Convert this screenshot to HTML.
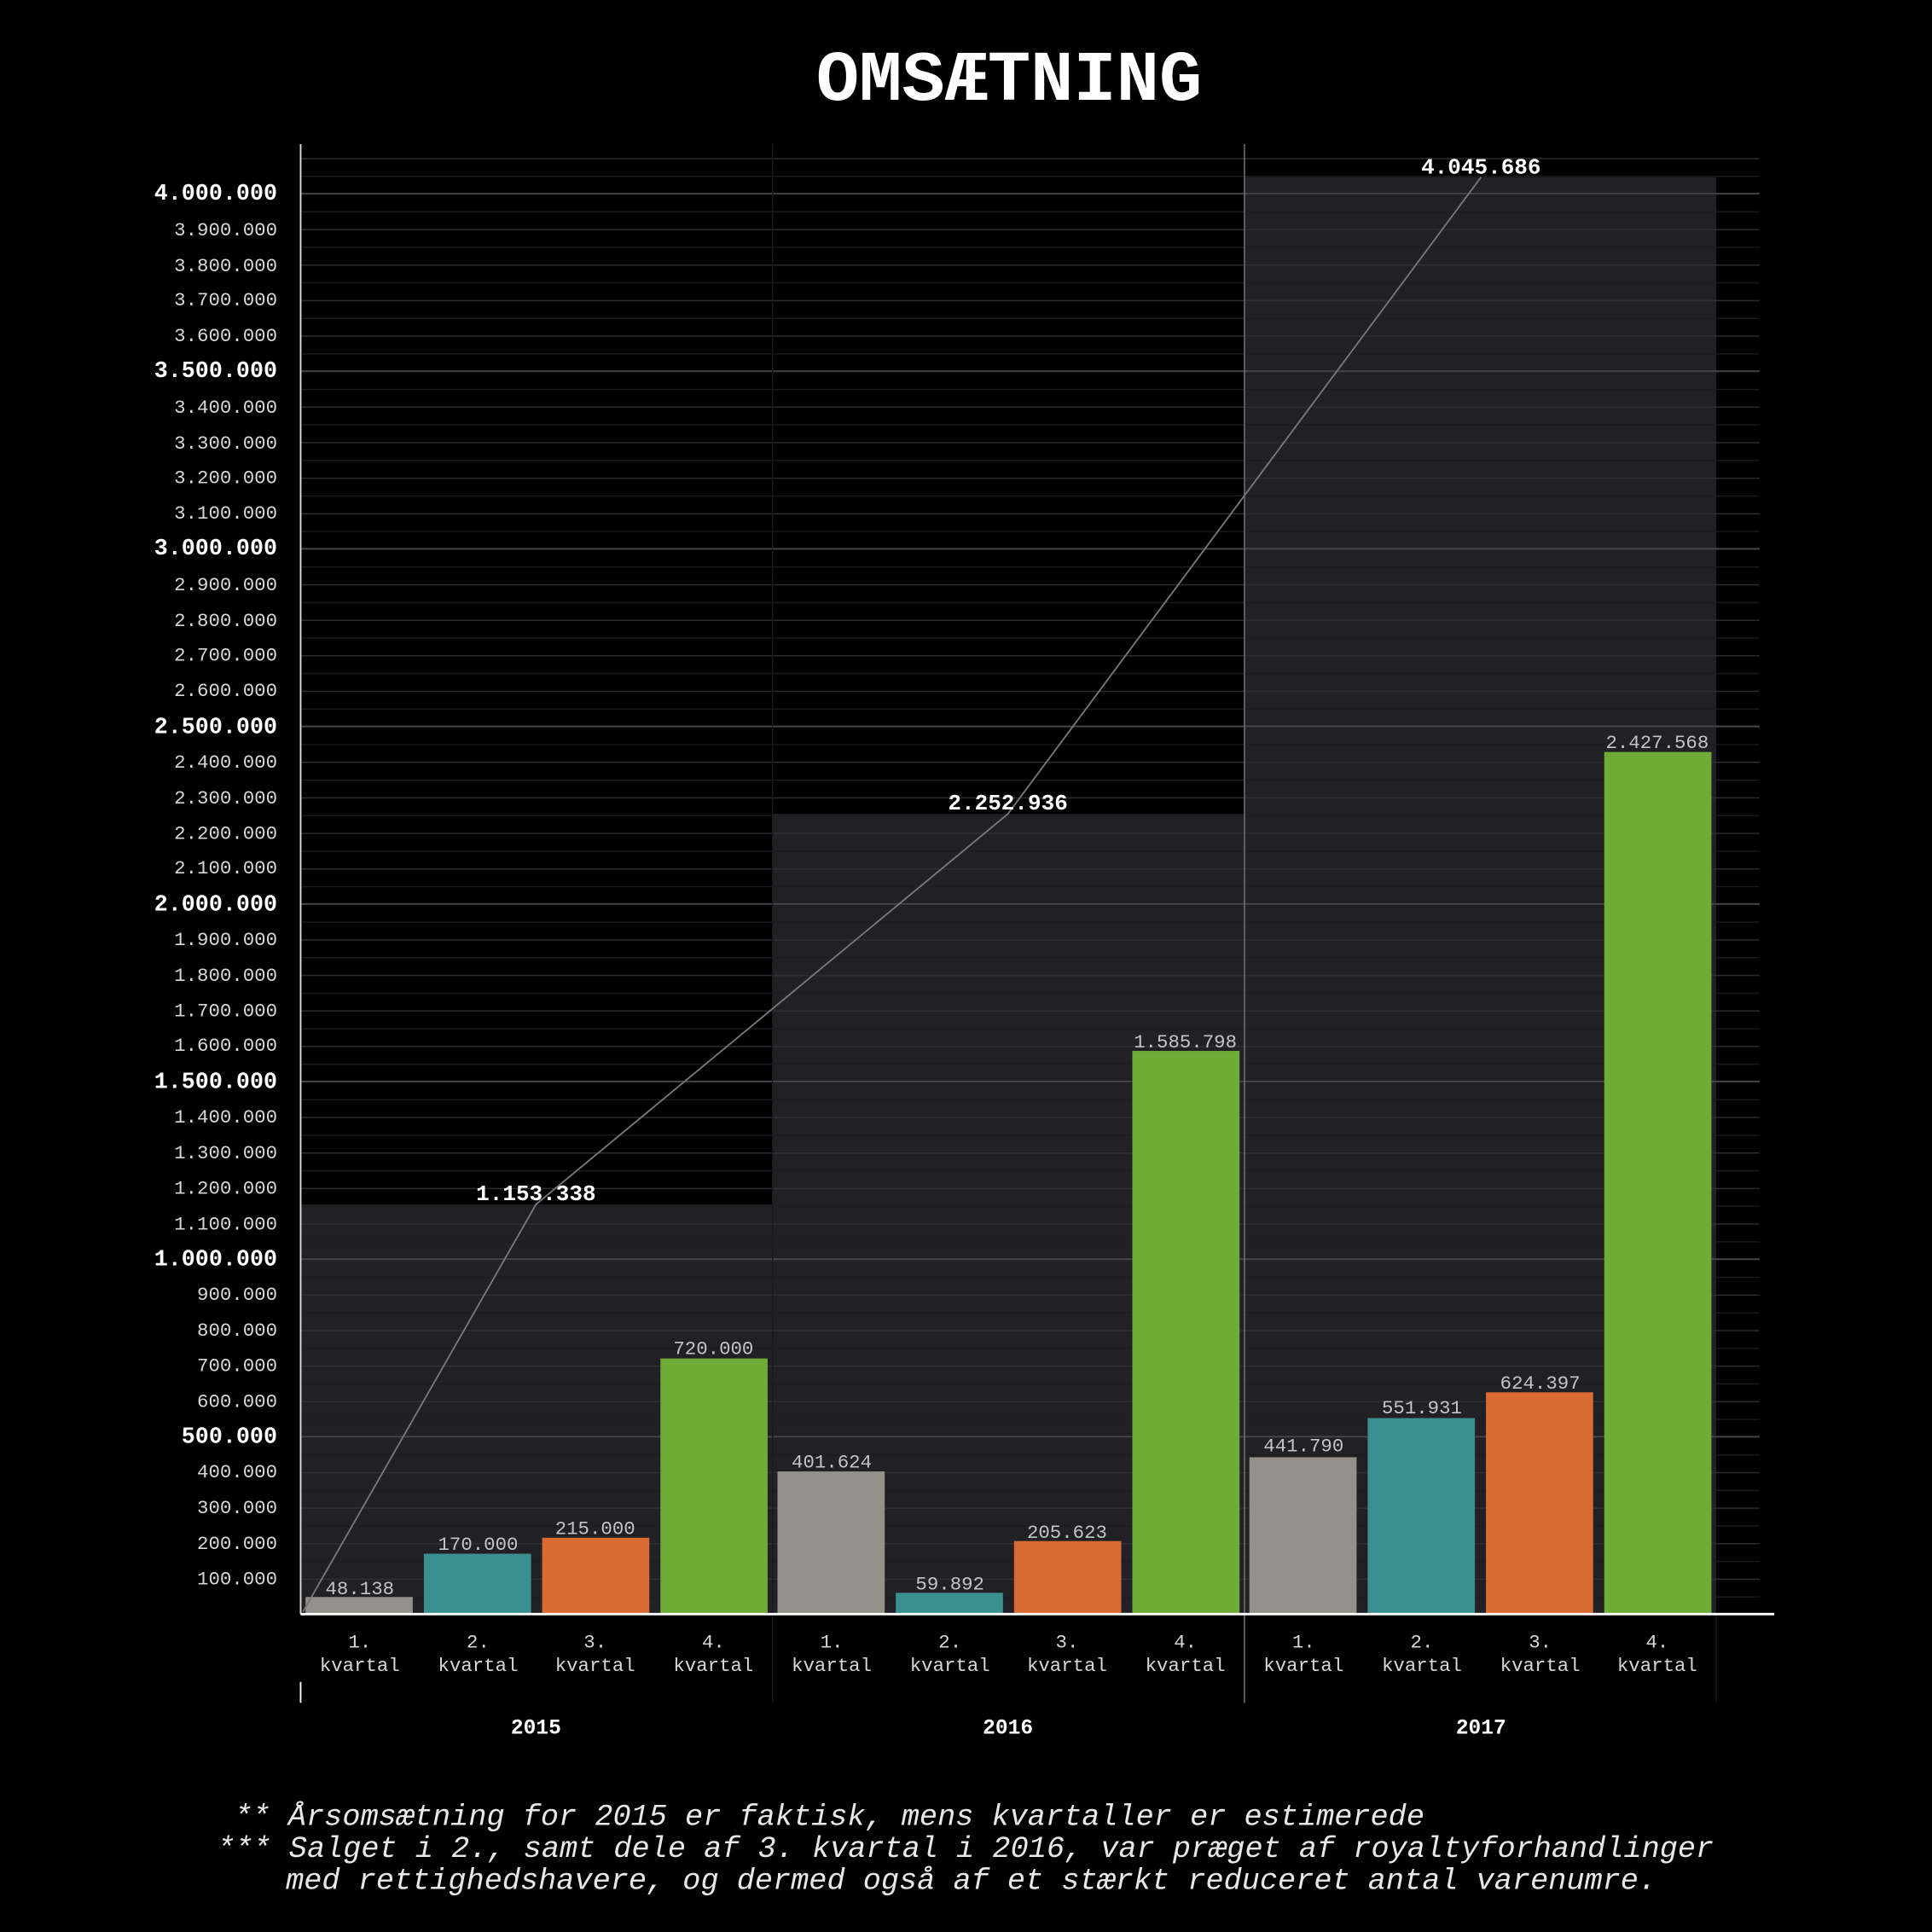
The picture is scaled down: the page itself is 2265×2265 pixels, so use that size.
<!DOCTYPE html>
<html><head><meta charset="utf-8"><style>html,body{margin:0;padding:0;background:#000}svg{display:block}</style></head>
<body>
<svg width="2265" height="2265" viewBox="0 0 1568 1568" xmlns="http://www.w3.org/2000/svg" font-family="'Liberation Mono', monospace">
<defs>
<pattern id="g" patternUnits="userSpaceOnUse" x="0" y="1310" width="1568" height="28.825">
<line x1="0" y1="0.5" x2="1568" y2="0.5" stroke="#303035" stroke-width="1"/>
<line x1="0" y1="14.9" x2="1568" y2="14.9" stroke="#1c1c20" stroke-width="1"/>
</pattern>
</defs>
<rect width="1568" height="1568" fill="#000"/>
<text x="819" y="81" text-anchor="middle" font-size="58" font-weight="bold" fill="#fff">OMSÆTNING</text>
<rect x="244" y="977.5" width="383" height="332.5" fill="#212125"/>
<rect x="627" y="660.6" width="383" height="649.4" fill="#212125"/>
<rect x="1010" y="143.8" width="383" height="1166.2" fill="#212125"/>
<rect x="244" y="127" width="1184" height="1183" fill="url(#g)" opacity="0.9"/>
<g stroke="#4a4a4e" stroke-width="1">
<line x1="244" y1="157" x2="1428" y2="157"/><line x1="244" y1="301.1" x2="1428" y2="301.1"/>
<line x1="244" y1="445.3" x2="1428" y2="445.3"/><line x1="244" y1="589.4" x2="1428" y2="589.4"/>
<line x1="244" y1="733.5" x2="1428" y2="733.5"/><line x1="244" y1="877.6" x2="1428" y2="877.6"/>
<line x1="244" y1="1021.8" x2="1428" y2="1021.8"/><line x1="244" y1="1165.9" x2="1428" y2="1165.9"/>
</g>
<line x1="627" y1="117" x2="627" y2="1382" stroke="#1a1a1d" stroke-width="1"/>
<line x1="1010" y1="117" x2="1010" y2="1382" stroke="#77777a" stroke-width="1"/>
<line x1="1393" y1="1310" x2="1393" y2="1382" stroke="#1a1a1d" stroke-width="1"/>
<g>
<rect x="248" y="1296.1" width="87" height="13.9" fill="#94918a"/>
<rect x="344" y="1261" width="87" height="49" fill="#3a9090"/>
<rect x="440" y="1248" width="87" height="62" fill="#d96b32"/>
<rect x="536" y="1102.5" width="87" height="207.5" fill="#6fab37"/>
<rect x="631" y="1194.2" width="87" height="115.8" fill="#94918a"/>
<rect x="727" y="1292.7" width="87" height="17.3" fill="#3a9090"/>
<rect x="823" y="1250.7" width="87" height="59.3" fill="#d96b32"/>
<rect x="919" y="852.9" width="87" height="457.1" fill="#6fab37"/>
<rect x="1014" y="1182.7" width="87" height="127.3" fill="#94918a"/>
<rect x="1110" y="1150.9" width="87" height="159.1" fill="#3a9090"/>
<rect x="1206" y="1130" width="87" height="180" fill="#d96b32"/>
<rect x="1302" y="610.3" width="87" height="699.7" fill="#6fab37"/>
</g>
<g font-size="15.5" fill="#c4c4c4" text-anchor="middle">
<text x="292" y="1294">48.138</text><text x="388" y="1258">170.000</text><text x="483" y="1245">215.000</text><text x="579" y="1099">720.000</text>
<text x="675" y="1191">401.624</text><text x="771" y="1290">59.892</text><text x="866" y="1248">205.623</text><text x="962" y="850">1.585.798</text>
<text x="1058" y="1178">441.790</text><text x="1154" y="1147">551.931</text><text x="1250" y="1127">624.397</text><text x="1345" y="607">2.427.568</text>
</g>
<polyline points="246,1308 435,977.5 818,660.6 1202,143.8" fill="none" stroke="#77777a" stroke-width="1.3"/>
<g font-size="18" font-weight="bold" fill="#fff" text-anchor="middle">
<text x="435" y="974">1.153.338</text><text x="818" y="657">2.252.936</text><text x="1202" y="141">4.045.686</text>
</g>
<line x1="244" y1="117" x2="244" y2="1310" stroke="#ddd" stroke-width="1.3"/>
<line x1="244" y1="1310" x2="1440" y2="1310" stroke="#fff" stroke-width="2"/>
<line x1="244" y1="1365" x2="244" y2="1382" stroke="#fff" stroke-width="1.3"/>
<g font-size="15.5" fill="#d8d8d8" text-anchor="end">
<text x="225" y="1286">100.000</text><text x="225" y="1257">200.000</text><text x="225" y="1228">300.000</text><text x="225" y="1199">400.000</text>
<text x="225" y="1142">600.000</text><text x="225" y="1113">700.000</text><text x="225" y="1084">800.000</text><text x="225" y="1055">900.000</text>
<text x="225" y="998">1.100.000</text><text x="225" y="969">1.200.000</text><text x="225" y="940">1.300.000</text><text x="225" y="911">1.400.000</text>
<text x="225" y="853">1.600.000</text><text x="225" y="825">1.700.000</text><text x="225" y="796">1.800.000</text><text x="225" y="767">1.900.000</text>
<text x="225" y="709">2.100.000</text><text x="225" y="681">2.200.000</text><text x="225" y="652">2.300.000</text><text x="225" y="623">2.400.000</text>
<text x="225" y="565">2.600.000</text><text x="225" y="536">2.700.000</text><text x="225" y="508">2.800.000</text><text x="225" y="479">2.900.000</text>
<text x="225" y="421">3.100.000</text><text x="225" y="392">3.200.000</text><text x="225" y="364">3.300.000</text><text x="225" y="335">3.400.000</text>
<text x="225" y="277">3.600.000</text><text x="225" y="248">3.700.000</text><text x="225" y="220">3.800.000</text><text x="225" y="191">3.900.000</text>
</g>
<g font-size="18.5" font-weight="bold" fill="#fff" text-anchor="end">
<text x="225" y="1171">500.000</text><text x="225" y="1027">1.000.000</text><text x="225" y="883">1.500.000</text><text x="225" y="739">2.000.000</text>
<text x="225" y="595">2.500.000</text><text x="225" y="450">3.000.000</text><text x="225" y="306">3.500.000</text><text x="225" y="162">4.000.000</text>
</g>
<g font-size="15.5" fill="#d8d8d8" text-anchor="middle">
<text x="292" y="1337">1.</text><text x="292" y="1356">kvartal</text>
<text x="388" y="1337">2.</text><text x="388" y="1356">kvartal</text>
<text x="483" y="1337">3.</text><text x="483" y="1356">kvartal</text>
<text x="579" y="1337">4.</text><text x="579" y="1356">kvartal</text>
<text x="675" y="1337">1.</text><text x="675" y="1356">kvartal</text>
<text x="771" y="1337">2.</text><text x="771" y="1356">kvartal</text>
<text x="866" y="1337">3.</text><text x="866" y="1356">kvartal</text>
<text x="962" y="1337">4.</text><text x="962" y="1356">kvartal</text>
<text x="1058" y="1337">1.</text><text x="1058" y="1356">kvartal</text>
<text x="1154" y="1337">2.</text><text x="1154" y="1356">kvartal</text>
<text x="1250" y="1337">3.</text><text x="1250" y="1356">kvartal</text>
<text x="1345" y="1337">4.</text><text x="1345" y="1356">kvartal</text>
</g>
<g font-size="17" font-weight="bold" fill="#fff" text-anchor="middle">
<text x="435" y="1407">2015</text><text x="818" y="1407">2016</text><text x="1202" y="1407">2017</text>
</g>
<g font-size="24.4" font-style="italic" fill="#e8e8e8" xml:space="preserve">
<text x="190" y="1481">** Årsomsætning for 2015 er faktisk, mens kvartaller er estimerede</text>
<text x="176" y="1507">*** Salget i 2., samt dele af 3. kvartal i 2016, var præget af royaltyforhandlinger</text>
<text x="232" y="1533">med rettighedshavere, og dermed også af et stærkt reduceret antal varenumre.</text>
</g>
</svg>
</body></html>
